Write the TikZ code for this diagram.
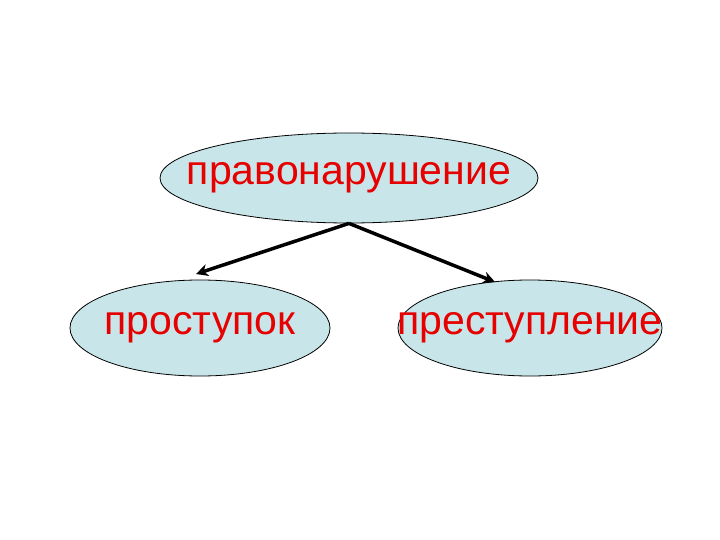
\documentclass[tikz,border=0pt]{standalone}
\usepackage{fontspec}
\setmainfont{Liberation Sans}
\usetikzlibrary{shapes.geometric,arrows.meta}
\definecolor{fillb}{RGB}{200,230,234}
\definecolor{txtred}{RGB}{230,0,0}
\begin{document}
\begin{tikzpicture}[x=1pt,y=-1pt,
  oval/.style={ellipse,draw=black,line width=0.8pt,fill=fillb,inner sep=0pt},
  lbl/.style={text=txtred,font=\fontsize{41}{44}\selectfont,inner sep=0pt},
  arr/.style={line width=3.5pt,-{Stealth[length=12pt,width=12pt]}}]
\useasboundingbox (0,0) rectangle (720,540);
\node[oval,minimum width=378pt,minimum height=90pt] (top) at (349,178) {};
\node[oval,minimum width=260pt,minimum height=96pt] (left) at (200,328) {};
\node[oval,minimum width=264pt,minimum height=96pt] (right) at (530,328) {};
\node[lbl] (ttop) at (top.center) {правонарушение};
\node[lbl] (tleft) at (left.center) {проступок};
\node[lbl] (tright) at (right.center) {преступление};
\coordinate (la) at (196,274);
\coordinate (ra) at (495,282);
\draw[arr] (top.south) -- (la);
\draw[arr] (top.south) -- (ra);
\end{tikzpicture}
\end{document}
